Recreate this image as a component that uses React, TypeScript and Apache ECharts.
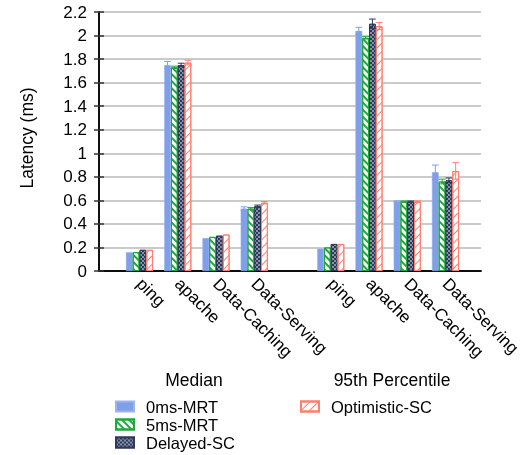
import React, { useEffect, useRef } from "react";
import * as echarts from "echarts";

const categories = ["ping", "apache", "Data-Caching", "Data-Serving", "", "ping", "apache", "Data-Caching", "Data-Serving"];
const seriesNames = ["0ms-MRT", "5ms-MRT", "Delayed-SC", "Optimistic-SC"];
const mrt0 = [0.16, 1.75, 0.28, 0.53, null, 0.19, 2.04, 0.59, 0.84];
const mrt5 = [0.16, 1.73, 0.29, 0.53, null, 0.2, 1.98, 0.59, 0.76];
const delayed = [0.18, 1.75, 0.3, 0.55, null, 0.23, 2.1, 0.59, 0.77];
const optimistic = [0.18, 1.77, 0.31, 0.58, null, 0.23, 2.08, 0.59, 0.85];
const mrt0Err = [0, 0.03, 0, 0.015, 0, 0, 0.03, 0.005, 0.06];
const mrt5Err = [0, 0.01, 0, 0.01, 0, 0, 0.01, 0.005, 0.02];
const delayedErr = [0, 0.015, 0, 0.01, 0, 0, 0.04, 0.005, 0.02];
const optimisticErr = [0, 0.02, 0, 0.01, 0, 0, 0.03, 0.005, 0.07];
const yTicks = { min: 0, max: 2.2, interval: 0.2 };
const groupLabels = ["Median", "95th Percentile"];

const FONT = "'Liberation Sans', Arial, Helvetica, sans-serif";
const CAT_GAP = 0.29;

const BLUE = "#7f9fe8";
const GREEN = "#1fa83a";
const NAVY = "#2d3a5c";
const SALMON = "#ff7e6e";

export default function App() {
  const ref = useRef<HTMLDivElement>(null);
  useEffect(() => {
    if (!ref.current) return;
    const chart = echarts.init(ref.current, undefined, { renderer: "svg" });
    const values = [mrt0, mrt5, delayed, optimistic];
    const errs = [mrt0Err, mrt5Err, delayedErr, optimisticErr];
    const colors = [BLUE, GREEN, NAVY, SALMON];
    const styles: any[] = [
      { color: BLUE, borderColor: "#9db4ee", borderWidth: 0.5 },
      {
        color: "#ffffff",
        borderColor: GREEN,
        borderWidth: 1,
        decal: { symbol: "rect", symbolSize: 1, color: GREEN, dashArrayX: [1, 0], dashArrayY: [1.5, 2.5], rotation: Math.PI / 4 },
      },
      {
        color: NAVY,
        borderColor: NAVY,
        borderWidth: 1,
        decal: { symbol: "diamond", symbolSize: 0.9, color: "#ffffff", dashArrayX: [[2, 2], [0, 2, 2, 0]], dashArrayY: [2, 0] },
      },
      {
        color: "#ffffff",
        borderColor: SALMON,
        borderWidth: 1,
        decal: { symbol: "rect", symbolSize: 1, color: SALMON, dashArrayX: [1, 0], dashArrayY: [1, 5], rotation: -Math.PI / 4 },
      },
    ];

    const barSeries = seriesNames.map((name, i) => ({
      name,
      type: "bar",
      xAxisIndex: 2,
      yAxisIndex: 2,
      data: values[i],
      barGap: "0%",
      barCategoryGap: (CAT_GAP * 100) + "%",
      itemStyle: styles[i],
      z: 2,
    }));

    const errSeries = seriesNames.map((name, si) => {
      const data: number[][] = [];
      values[si].forEach((v, k) => {
        const e = errs[si][k];
        if (v != null && e > 0) data.push([k, v - e, v + e]);
      });
      return {
        name: name + "-err",
        type: "custom",
        xAxisIndex: 2,
        yAxisIndex: 2,
        z: 4,
        silent: true,
        encode: { x: 0, y: [1, 2] },
        data,
        renderItem: (params: any, api: any) => {
          const cat = api.value(0);
          const lo = api.value(1);
          const hi = api.value(2);
          const bandW = api.size([1, 0])[0];
          const barW = (bandW * (1 - CAT_GAP)) / 4;
          const off = (si - 1.5) * barW;
          const p1 = api.coord([cat, lo]);
          const p2 = api.coord([cat, hi]);
          const x = p1[0] + off;
          const cap = barW * 0.5;
          const st = { stroke: colors[si], lineWidth: 1 };
          return {
            type: "group",
            children: [
              { type: "line", shape: { x1: x, y1: p1[1], x2: x, y2: p2[1] }, style: st },
              { type: "line", shape: { x1: x - cap, y1: p2[1], x2: x + cap, y2: p2[1] }, style: st },
              { type: "line", shape: { x1: x - cap, y1: p1[1], x2: x + cap, y2: p1[1] }, style: st },
            ],
          };
        },
      };
    });

    const frameAxisLine = { show: true, lineStyle: { color: "#000", width: 1.5 } };
    const plotLeft = 99;
    const plotTop = 12;
    const plotW = 382;
    const plotH = 259;
    const slotW = 38.25;
    const firstCenter = 139.5;

    const legendCommon = {
      orient: "vertical",
      icon: "rect",
      itemWidth: 18,
      itemHeight: 10,
      itemGap: 1,
      padding: 0,
      top: 398,
      height: 57,
      textStyle: { fontFamily: FONT, fontSize: 16.5, color: "#000", padding: [0, 0, 0, 7] },
      selectedMode: false,
    };

    chart.setOption({
      animation: false,
      textStyle: { fontFamily: FONT },
      grid: [
        { left: plotLeft, top: plotTop, width: plotW, height: plotH },
        { left: firstCenter - slotW / 2, top: plotTop, width: slotW * categories.length, height: plotH },
      ],
      xAxis: [
        { type: "value", gridIndex: 0, min: 0, max: 1, position: "bottom", axisLine: frameAxisLine, axisTick: { show: false }, axisLabel: { show: false }, splitLine: { show: false } },
        { type: "value", gridIndex: 0, min: 0, max: 1, position: "top", axisLine: frameAxisLine, axisTick: { show: false }, axisLabel: { show: false }, splitLine: { show: false } },
        {
          type: "category",
          gridIndex: 1,
          data: categories,
          axisLine: { show: false },
          axisTick: { show: false },
          axisLabel: { interval: 0, rotate: -45, margin: 10, fontSize: 17, color: "#000", fontFamily: FONT },
        },
      ],
      yAxis: [
        {
          type: "value",
          gridIndex: 0,
          position: "left",
          min: yTicks.min,
          max: yTicks.max,
          interval: yTicks.interval,
          axisLine: frameAxisLine,
          axisTick: { show: true, inside: true, length: 5, lineStyle: { color: "#333", width: 1.5 } },
          axisLabel: { fontSize: 17, color: "#000", margin: 12, fontFamily: FONT },
          splitLine: { show: true, lineStyle: { color: "#b8b8b8", width: 1.5 } },
        },
        {
          type: "value",
          gridIndex: 0,
          position: "right",
          min: yTicks.min,
          max: yTicks.max,
          interval: yTicks.interval,
          axisLine: frameAxisLine,
          axisTick: { show: true, inside: true, length: 5, lineStyle: { color: "#333", width: 1.5 } },
          axisLabel: { show: false },
          splitLine: { show: false },
        },
        { type: "value", gridIndex: 1, min: yTicks.min, max: yTicks.max, show: false },
      ],
      legend: [
        { ...legendCommon, left: 115, data: seriesNames.slice(0, 3) },
        { ...legendCommon, left: 300, data: seriesNames.slice(3) },
      ],
      graphic: [
        { type: "text", x: 27, y: 138, rotation: Math.PI / 2, style: { text: "Latency (ms)", font: `17.5px ${FONT}`, fill: "#000", align: "center", verticalAlign: "middle" } },
        { type: "text", x: 194, y: 380, style: { text: groupLabels[0], font: `17.5px ${FONT}`, fill: "#000", align: "center", verticalAlign: "middle" } },
        { type: "text", x: 392, y: 380, style: { text: groupLabels[1], font: `17.5px ${FONT}`, fill: "#000", align: "center", verticalAlign: "middle" } },
      ],
      series: [...barSeries, ...errSeries],
    });
    return () => chart.dispose();
  }, []);
  return <div ref={ref} style={{ position: "fixed", left: 0, top: 0, width: 524, height: 455 }} />;
}
